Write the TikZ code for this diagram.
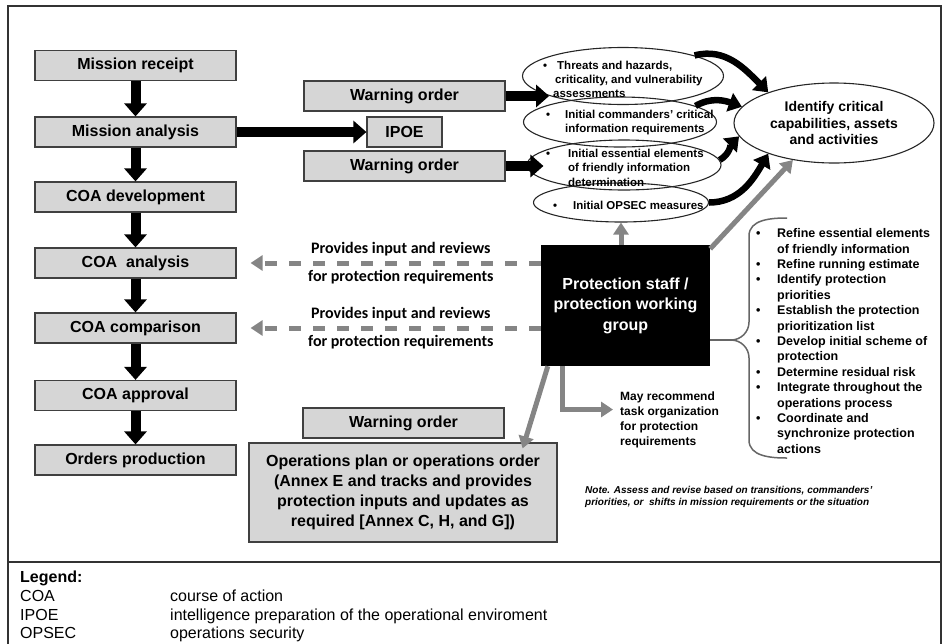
\documentclass[tikz,border=0pt]{standalone}
\usepackage{fontspec}
\setmainfont{Liberation Sans}
\newfontfamily\calfont{Carlito}
\usetikzlibrary{arrows.meta,shapes.geometric,positioning}

\tikzset{
  frameline/.style={draw=black!80, line width=1.8pt},
  stepbox/.style={draw=black!75, fill=black!16, line width=1.2pt, minimum height=30pt, inner sep=0pt,
    font=\bfseries\fontsize{16}{19}\selectfont},
  wide/.style={minimum width=201pt},
  bullell/.style={draw=black!85, line width=1.1pt, ellipse, inner sep=0pt},
  elltext/.style={anchor=west, align=left, inner sep=0pt, font=\bfseries\fontsize{11.5}{14}\selectfont},
  listtext/.style={anchor=west, align=left, inner sep=0pt, font=\bfseries\fontsize{12.5}{15.4}\selectfont},
  provlbl/.style={inner sep=0pt, font=\calfont\bfseries\fontsize{16}{19}\selectfont},
  blkarrow/.style={line width=10pt, -{Triangle[width=22pt,length=13pt]}},
  curvarrow/.style={line width=6.5pt, -{Triangle[width=19pt,length=13pt]}},
  grayarrow/.style={draw=black!48, line width=5pt, -{Triangle[width=15pt,length=12pt]}},
  dasharrow/.style={draw=black!48, line width=5pt, dash pattern=on 12pt off 12pt, -{Triangle[width=15pt,length=12pt]}},
  bracel/.style={draw=black!60, line width=1.5pt},
  legtext/.style={anchor=base west, inner sep=0pt, font=\fontsize{16}{19}\selectfont}
}
\newcommand{\ellbul}[1]{\makebox[#1][l]{\textbullet}}

\begin{document}
\begin{tikzpicture}[x=1pt,y=1pt]
\useasboundingbox (0,0) rectangle (944,-643);
\draw[frameline] (8,-650) -- (8,-6) -- (941,-6) -- (941,-650);
\draw[frameline] (8,-562) -- (941,-562);

\path (135.5,-65.5) node[stepbox,wide] (mrec) {Mission receipt}
		(135.5,-132) node[stepbox,wide] (manal) {Mission analysis}
		(135.5,-197) node[stepbox,wide] (coadev) {COA development}
		(135.5,-263) node[stepbox,wide] (coaanal) {COA\ \ analysis}
		(135.5,-328) node[stepbox,wide] (coacomp) {COA comparison}
		(135.5,-395.5) node[stepbox,wide] (coaappr) {COA approval}
		(135.5,-460) node[stepbox,wide] (ordprod) {Orders production}
		(404.5,-96) node[stepbox,wide] (warn1) {Warning order}
		(404.5,-132) node[stepbox,minimum width=75pt] (ipoe) {IPOE}
		(404.5,-166) node[stepbox,wide] (warn2) {Warning order}
		(403.5,-423) node[stepbox,wide] (warn3) {Warning order}
		(403,-492.5) node[stepbox,minimum width=308pt,minimum height=99pt,align=center,
			font=\bfseries\fontsize{16}{20}\selectfont] (opsplan)
			{Operations plan or operations order\\ (Annex E and tracks and provides\\
			 protection inputs and updates as\\ required [Annex C, H, and G])}
		;

\path (623,-76) node[bullell,minimum width=201pt,minimum height=57pt] (threat) {}
		(620,-122) node[bullell,minimum width=193pt,minimum height=50pt] (comm) {}
		(624,-165) node[bullell,minimum width=194pt,minimum height=50pt] (eefi) {}
		(621,-202.5) node[bullell,minimum width=175pt,minimum height=39pt] (opsec) {}
		(834,-123) node[bullell,minimum width=200pt,minimum height=80pt,align=center,
			font=\bfseries\fontsize{14}{16.5}\selectfont] (ident)
			{Identify critical\\ capabilities, assets\\ and activities}
		(543,-79) node[elltext] (threattxt) {\ellbul{14pt}Threats and hazards,\\
			\hspace*{12pt}criticality, and vulnerability\\ \hspace*{10pt}assessments}
		(546,-123) node[elltext] (commtxt) {\ellbul{19pt}Initial commanders' critical\\
			\hspace*{19pt}information requirements}
		(546,-167.5) node[elltext,font=\bfseries\fontsize{11.5}{14.5}\selectfont] (eefitxt)
			{\ellbul{22pt}Initial essential elements\\ \hspace*{22pt}of friendly information\\
			 \hspace*{22pt}determination}
		(553,-205) node[elltext] (opsectxt) {\ellbul{20pt}Initial OPSEC measures}
		;

\path (625.5,-305.5) node[fill=black, minimum width=169pt, minimum height=121pt, text=white,
			align=center, font=\bfseries\fontsize{16}{20.5}\selectfont] (pstaff)
			{Protection staff /\\ protection working\\ group}
		(620,-419.5) node[anchor=west, align=left, inner sep=0pt,
			font=\bfseries\fontsize{12}{15}\selectfont] (mayrec)
			{May recommend\\ task organization\\ for protection\\ requirements}
		(756,-341) node[listtext] (tasks)
			{\ellbul{21pt}Refine essential elements\\ \hspace*{21pt}of friendly information\\
			 \ellbul{21pt}Refine running estimate\\
			 \ellbul{21pt}Identify protection\\ \hspace*{21pt}priorities\\
			 \ellbul{21pt}Establish the protection\\ \hspace*{21pt}prioritization list\\
			 \ellbul{21pt}Develop initial scheme of\\ \hspace*{21pt}protection\\
			 \ellbul{21pt}Determine residual risk\\
			 \ellbul{21pt}Integrate throughout the\\ \hspace*{21pt}operations process\\
			 \ellbul{21pt}Coordinate and\\ \hspace*{21pt}synchronize protection\\
			 \hspace*{21pt}actions}
		(585,-497) node[anchor=west, align=left, inner sep=0pt,
			font=\bfseries\itshape\fontsize{10}{12}\selectfont] (note)
			{Note. Assess and revise based on transitions, commanders'\\
			 priorities, or\ \ shifts in mission requirements or the situation}
		;

\draw[blkarrow] (node cs:name=mrec) -- (node cs:name=manal);
\draw[blkarrow] (node cs:name=manal) -- (node cs:name=coadev);
\draw[blkarrow] (node cs:name=coadev) -- (node cs:name=coaanal);
\draw[blkarrow] (node cs:name=coaanal) -- (node cs:name=coacomp);
\draw[blkarrow] (node cs:name=coacomp) -- (node cs:name=coaappr);
\draw[blkarrow] (node cs:name=coaappr) -- (node cs:name=ordprod);
\draw[blkarrow] (node cs:name=manal) -- (node cs:name=ipoe);
\draw[blkarrow] (warn1.east) -- (warn1.east -| threat.195);
\draw[blkarrow] (warn2.east) -- ([xshift=17pt]warn2.east -| eefi.west);

\draw[curvarrow] (threat.16) to[out=15,in=135] (ident.155);
\draw[curvarrow] (comm.12) to[out=30,in=160] (ident.170);
\draw[curvarrow] (eefi.3) to[out=30,in=225] (ident.188);
\draw[curvarrow] (opsec.east) to[out=0,in=240] (ident.205);

\draw[grayarrow] (pstaff.north -| opsec.south) -- (opsec.south);
\draw[grayarrow] ([yshift=-4pt]pstaff.north east) -- (ident.222);
\draw[grayarrow] ([xshift=7pt]pstaff.south west) -- ([xshift=-35pt,yshift=-6pt]opsplan.north east);
\draw[grayarrow] ([xshift=22pt]pstaff.south west) |- ([xshift=-7pt,yshift=10pt]mayrec.west);

\draw[dasharrow, shorten >=14pt] (pstaff.west |- coaanal.east) -- (coaanal.east)
	node[provlbl, pos=0.46, above=4pt] (prov1a) {Provides input and reviews}
	node[provlbl, pos=0.46, below=5pt] (prov1b) {for protection requirements};
\draw[dasharrow, shorten >=14pt] (pstaff.west |- coacomp.east) -- (coacomp.east)
	node[provlbl, pos=0.46, above=4pt] (prov2a) {Provides input and reviews}
	node[provlbl, pos=0.46, below=5pt] (prov2b) {for protection requirements};

\coordinate (bracetip) at (731,-340);
\draw[bracel] (pstaff.east |- bracetip) -- (bracetip);
\draw[bracel] (787,-218) to[out=180,in=90] (749,-236) -- (749,-322)
	to[out=-90,in=0] (bracetip) to[out=0,in=90] (749,-358) -- (749,-440)
	to[out=-90,in=180] (787,-458);

\path (20,-582) node[legtext, font=\bfseries\fontsize{16}{19}\selectfont] (leghead) {Legend:}
		(20,-601) node[legtext] (legcoa) {COA}
		(170,-601) node[legtext] (legcoadef) {course of action}
		(20,-620) node[legtext] (legipoe) {IPOE}
		(170,-620) node[legtext] (legipoedef) {intelligence preparation of the operational enviroment}
		(20,-638) node[legtext] (legopsec) {OPSEC}
		(170,-638) node[legtext] (legopsecdef) {operations security}
		;
\end{tikzpicture}
\end{document}
